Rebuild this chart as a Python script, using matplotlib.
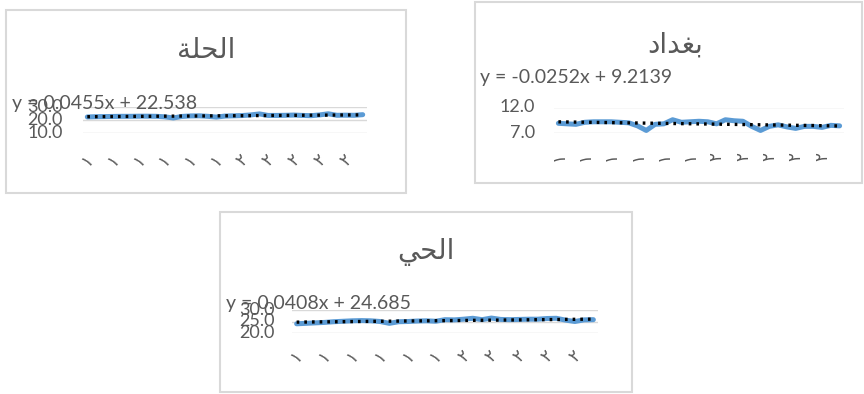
import matplotlib
matplotlib.use("Agg")
import matplotlib.pyplot as plt
import matplotlib.transforms as mtransforms
import numpy as np
from matplotlib.patches import Rectangle

# ---------------- data ----------------
# titles (Arabic, pre-shaped presentation forms in visual order)
title_hilla = "\uFE94\uFEE0\uFEA4\uFEDF\uFE8D"      # الحلة
title_baghdad = "\uFEA9\uFE8D\uFEAA\uFED0\uFE91"    # بغداد
title_hai = "\uFEF2\uFEA4\uFEDF\uFE8D"              # الحي

hilla = [22.4, 22.6, 22.7, 22.8, 22.9, 22.9, 23.0, 23.0, 22.9, 22.5, 21.6,
         22.8, 23.2, 23.3, 22.9, 22.3, 23.1, 23.3, 23.5, 24.0, 24.8, 23.6,
         23.6, 23.7, 23.9, 23.6, 23.4, 24.0, 24.9, 23.7, 23.8, 23.7, 24.2]
baghdad = [8.9, 8.8, 8.7, 9.1, 9.2, 9.2, 9.2, 9.1, 9.0, 8.4, 7.5,
           8.7, 8.8, 9.6, 9.1, 9.2, 9.3, 9.2, 8.8, 9.6, 9.4, 9.3,
           8.3, 7.5, 8.3, 8.6, 8.2, 7.9, 8.3, 8.3, 8.1, 8.5, 8.4]
hai = [24.0, 24.2, 24.4, 24.6, 24.9, 25.1, 25.3, 25.4, 25.3, 25.0, 24.2,
       24.9, 25.0, 25.2, 25.3, 25.1, 25.8, 25.7, 26.0, 26.4, 25.8, 26.5,
       25.9, 25.8, 25.9, 26.0, 26.0, 26.3, 26.4, 25.6, 25.0, 25.7, 25.8]

# trendline coefficients (slope, intercept) as printed on the chart
trend_hilla = (0.0455, 22.538)
trend_baghdad = (-0.0252, 9.2139)
trend_hai = (0.0408, 24.685)

eq_hilla = "y = 0.0455x + 22.538"
eq_baghdad = "y = -0.0252x + 9.2139"
eq_hai = "y = 0.0408x + 24.685"

yticks_hilla = [10.0, 20.0, 30.0]
yticks_baghdad = [7.0, 12.0]
yticks_hai = [20.0, 25.0, 30.0]

xlabels = ["\u0661"] * 6 + ["\u0662"] * 5   # truncated category labels

# ---------------- figure ----------------
W, H = 864, 394
fig = plt.figure(figsize=(W / 100, H / 100), dpi=100)
fig.patch.set_facecolor("white")

GREY = "#595959"
GRID = "#d9d9d9"
BLUE = "#5b9bd5"
NUMFONT = ["Lato", "DejaVu Sans"]
ARFONT = ["DejaVu Sans"]


def fx(px):
    return px / W


def fy(py):
    return 1 - py / H


def box(x0, y0, x1, y1):
    fig.patches.append(Rectangle((fx(x0), fy(y1)), fx(x1) - fx(x0), fy(y0) - fy(y1),
                                 transform=fig.transFigure, fill=False,
                                 edgecolor=GRID, linewidth=1.5))


def draw_panel(vals, trend, title, eq, yticks, ylim, area, title_xy, eq_xy,
               ylab_right, label_rot, label_y):
    x0, y0, x1, y1 = area
    ax = fig.add_axes([fx(x0), fy(y1), fx(x1) - fx(x0), fy(y0) - fy(y1)])
    n = len(vals)
    xs = np.arange(n)
    ax.set_xlim(-0.5, n - 0.5)
    ax.set_ylim(*ylim)
    for t in yticks:
        ax.axhline(t, color=GRID, lw=1, zorder=0)
    ax.plot(xs, vals, color=BLUE, lw=3.6, solid_capstyle="round",
            solid_joinstyle="round", zorder=2)
    slope, inter = trend
    ax.plot(xs, slope * (xs + 1) + inter, color="black", lw=2.4,
            linestyle=(0, (0.8, 1.5)), zorder=3)
    ax.axis("off")
    # y tick labels (placed through the axes' y scale)
    ytr = mtransforms.blended_transform_factory(fig.transFigure, ax.transData)
    for t in yticks:
        fig.text(fx(ylab_right), t, f"{t:.1f}", transform=ytr, fontsize=13,
                 color=GREY, family=NUMFONT, ha="right", va="center", zorder=1)
    # category labels every 3rd category
    xtr = mtransforms.blended_transform_factory(ax.transData, fig.transFigure)
    for i, lab in zip(range(0, n, 3), xlabels):
        fig.text(i, fy(label_y), lab, transform=xtr, fontsize=12, color=GREY,
                 family=ARFONT, ha="center", va="center", rotation=label_rot)
    fig.text(fx(title_xy[0]), fy(title_xy[1]), title, fontsize=20, color=GREY,
             family=ARFONT, ha="center", va="center")
    fig.text(fx(eq_xy[0]), fy(eq_xy[1]), eq, fontsize=14, color=GREY,
             family=NUMFONT, ha="left", va="center", zorder=5)
    return ax


# panel borders
box(6, 10, 406, 193)
box(475, 2, 862, 183)
box(220, 212, 632, 392)

draw_panel(hilla, trend_hilla, title_hilla, eq_hilla, yticks_hilla, (10, 30),
           (83, 107.3, 367, 132.7), (206, 50), (12, 104), 63, 45, 160)
draw_panel(baghdad, trend_baghdad, title_baghdad, eq_baghdad, yticks_baghdad, (7, 12),
           (554, 107.5, 844, 133), (675, 45), (480, 78), 535, 90, 157)
draw_panel(hai, trend_hai, title_hai, eq_hai, yticks_hai, (20, 30),
           (292, 310, 598, 333), (426, 252), (226, 304), 275, 45, 356)

fig.savefig("out.png", dpi=100, facecolor="white")
